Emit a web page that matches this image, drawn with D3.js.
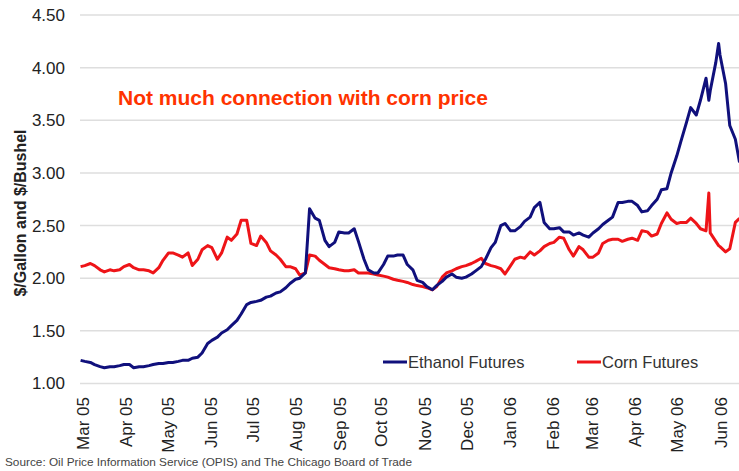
<!DOCTYPE html>
<html>
<head>
<meta charset="utf-8">
<script src="https://cdn.jsdelivr.net/npm/d3@7"></script>
<style>
  body { margin: 0; background: #fff; }
  svg { display: block; font-family: "Liberation Sans", Arial, sans-serif; }
</style>
</head>
<body>
<div class="container"></div>
<script>
var width = 739;
var height = 471;
var margin = {top: 15, right: 0, bottom: 87, left: 80};

// dates (Mon / Thu samples), grouped by month
var dates = [
  "2005-02-28","2005-03-03","2005-03-07","2005-03-10","2005-03-14","2005-03-17","2005-03-21","2005-03-24","2005-03-28","2005-03-31",
  "2005-04-04","2005-04-07","2005-04-11","2005-04-14","2005-04-18","2005-04-21","2005-04-25","2005-04-28",
  "2005-05-02","2005-05-05","2005-05-09","2005-05-12","2005-05-16","2005-05-19","2005-05-23","2005-05-26","2005-05-30",
  "2005-06-02","2005-06-06","2005-06-09","2005-06-13","2005-06-16","2005-06-20","2005-06-23","2005-06-27","2005-06-30",
  "2005-07-04","2005-07-07","2005-07-11","2005-07-14","2005-07-18","2005-07-21","2005-07-25","2005-07-28",
  "2005-08-01","2005-08-04","2005-08-08","2005-08-11","2005-08-15","2005-08-18","2005-08-22","2005-08-25","2005-08-29",
  "2005-09-01","2005-09-05","2005-09-08","2005-09-12","2005-09-15","2005-09-19","2005-09-22","2005-09-26","2005-09-29",
  "2005-10-03","2005-10-06","2005-10-10","2005-10-13","2005-10-17","2005-10-20","2005-10-24","2005-10-27","2005-10-31",
  "2005-11-03","2005-11-07","2005-11-10","2005-11-14","2005-11-17","2005-11-21","2005-11-24","2005-11-28",
  "2005-12-01","2005-12-05","2005-12-08","2005-12-12","2005-12-15","2005-12-19","2005-12-22","2005-12-26","2005-12-29",
  "2006-01-02","2006-01-05","2006-01-09","2006-01-12","2006-01-16","2006-01-19","2006-01-23","2006-01-26","2006-01-30",
  "2006-02-02","2006-02-06","2006-02-09","2006-02-13","2006-02-16","2006-02-20","2006-02-23","2006-02-27",
  "2006-03-02","2006-03-06","2006-03-09","2006-03-13","2006-03-16","2006-03-20","2006-03-23","2006-03-27","2006-03-30",
  "2006-04-03","2006-04-06","2006-04-10","2006-04-13","2006-04-17","2006-04-20","2006-04-24","2006-04-27",
  "2006-05-01","2006-05-04","2006-05-08","2006-05-11","2006-05-15","2006-05-18","2006-05-22","2006-05-24","2006-05-25","2006-05-29","2006-05-31",
  "2006-06-01","2006-06-05","2006-06-08","2006-06-12","2006-06-15"
];

var ethanol = [
  1.22,1.21,1.20,1.18,1.16,1.15,1.16,1.16,1.17,1.18,
  1.18,1.15,1.16,1.16,1.17,1.18,1.19,1.19,
  1.20,1.20,1.21,1.22,1.22,1.24,1.25,1.29,1.38,
  1.41,1.44,1.48,1.51,1.55,1.60,1.66,1.75,1.77,
  1.78,1.79,1.82,1.83,1.86,1.87,1.91,1.95,
  1.99,2.00,2.05,2.66,2.57,2.55,2.36,2.30,2.34,
  2.44,2.43,2.43,2.47,2.35,2.18,2.08,2.05,2.05,
  2.13,2.21,2.21,2.22,2.22,2.13,2.08,1.98,1.96,
  1.92,1.89,1.93,1.97,2.01,2.04,2.01,2.00,
  2.01,2.04,2.07,2.11,2.18,2.29,2.34,2.50,2.52,
  2.45,2.45,2.49,2.54,2.58,2.67,2.72,2.53,2.47,
  2.47,2.48,2.44,2.44,2.41,2.43,2.41,2.39,
  2.43,2.47,2.51,2.55,2.58,2.72,2.72,2.73,2.73,
  2.69,2.63,2.64,2.69,2.75,2.84,2.85,3.00,
  3.16,3.30,3.48,3.62,3.55,3.69,3.90,3.69,3.78,4.05,4.23,
  4.12,3.85,3.45,3.32,3.10
];

var corn = [
  2.11,2.12,2.14,2.12,2.08,2.06,2.08,2.07,2.08,2.11,
  2.13,2.10,2.08,2.08,2.07,2.05,2.10,2.17,
  2.24,2.24,2.22,2.20,2.24,2.12,2.18,2.27,2.31,
  2.29,2.18,2.24,2.39,2.36,2.42,2.55,2.55,2.33,
  2.31,2.40,2.34,2.26,2.22,2.18,2.11,2.11,
  2.09,2.03,2.05,2.22,2.21,2.17,2.13,2.10,2.09,
  2.08,2.07,2.07,2.08,2.05,2.05,2.05,2.04,2.03,
  2.02,2.01,1.99,1.98,1.97,1.96,1.94,1.93,1.92,
  1.91,1.89,1.92,2.01,2.05,2.07,2.09,2.11,
  2.12,2.14,2.16,2.19,2.14,2.12,2.11,2.09,2.04,
  2.12,2.18,2.20,2.19,2.25,2.22,2.26,2.30,2.33,
  2.34,2.39,2.38,2.27,2.21,2.30,2.27,2.20,
  2.20,2.24,2.33,2.36,2.37,2.37,2.35,2.37,2.38,
  2.36,2.45,2.44,2.40,2.42,2.52,2.62,2.56,
  2.52,2.53,2.53,2.57,2.52,2.47,2.45,2.81,2.43,2.35,2.31,
  2.30,2.25,2.28,2.53,2.57
];

var yTicks = [1.00, 1.50, 2.00, 2.50, 3.00, 3.50, 4.00, 4.50];
var monthTicks = ["2005-03-01","2005-04-01","2005-05-01","2005-06-01","2005-07-01","2005-08-01","2005-09-01","2005-10-01",
  "2005-11-01","2005-12-01","2006-01-01","2006-02-01","2006-03-01","2006-04-01","2006-05-01","2006-06-01"];
var seriesNames = ["Ethanol Futures", "Corn Futures"];
var colors = ["#10107c", "#ee1418"];

var parse = d3.timeParse("%Y-%m-%d");
var fmt = d3.timeFormat("%b %y");

//-----------------------------------------
// 1. SVG
var svg = d3.select(".container")
  .append("svg")
  .attr("width", width)
  .attr("height", height);

//-----------------------------------------
// 2. SCALES & AXES
var xScale = d3.scaleTime()
  .domain([parse("2005-03-01"), parse("2006-06-01")])
  .range([82, 720]);
var yScale = d3.scaleLinear()
  .domain([1, 4.5])
  .range([383.5, margin.top]);

// gridlines
svg.append("g")
  .selectAll("line")
  .data(yTicks)
  .enter()
  .append("line")
  .attr("x1", margin.left)
  .attr("x2", width)
  .attr("y1", (d) => yScale(d))
  .attr("y2", (d) => yScale(d))
  .attr("stroke", "#dedede")
  .attr("stroke-width", 1.5);

var yAxis = d3.axisLeft(yScale)
  .tickValues(yTicks)
  .tickFormat(d3.format(".2f"))
  .tickSize(0)
  .tickPadding(0);
svg.append("g")
  .attr("transform", "translate(65,0)")
  .call(yAxis)
  .call((g) => g.select(".domain").remove())
  .selectAll("text")
  .attr("font-size", 17)
  .attr("font-family", "Liberation Sans, Arial, sans-serif")
  .attr("fill", "#222");

var xAxis = d3.axisBottom(xScale)
  .tickValues(monthTicks.map(parse))
  .tickFormat(fmt)
  .tickSize(0);
svg.append("g")
  .attr("transform", "translate(0,397)")
  .call(xAxis)
  .call((g) => g.select(".domain").remove())
  .selectAll("text")
  .attr("font-size", 17)
  .attr("font-family", "Liberation Sans, Arial, sans-serif")
  .attr("fill", "#222")
  .attr("text-anchor", "end")
  .attr("transform", "rotate(-90)")
  .attr("x", 0)
  .attr("y", 0)
  .attr("dy", "0.36em");

// y title
svg.append("text")
  .attr("transform", "translate(20,213) rotate(-90)")
  .attr("text-anchor", "middle")
  .attr("dy", "0.35em")
  .attr("font-size", 16)
  .attr("font-weight", "bold")
  .attr("fill", "#222")
  .text("$/Gallon and $/Bushel");

//-----------------------------------------
// 3. LINES
var line = d3.line()
  .x((d) => xScale(d.date))
  .y((d) => yScale(d.value));

[corn, ethanol].forEach(function(values, j) {
  var pts = values.map((v, i) => ({date: parse(dates[i]), value: v}));
  svg.append("path")
    .datum(pts)
    .attr("fill", "none")
    .attr("stroke", j == 0 ? colors[1] : colors[0])
    .attr("stroke-width", 3)
    .attr("stroke-linejoin", "round")
    .attr("d", line);
});

//-----------------------------------------
// 4. LEGEND & NOTES
var legendX = [383, 577];
var legend = svg.selectAll(".legend")
  .data(seriesNames)
  .enter()
  .append("g")
  .attr("class", "legend")
  .attr("transform", (d, i) => "translate(" + legendX[i] + ",362)");
legend.append("line")
  .attr("x1", 0).attr("x2", 24)
  .attr("stroke", (d, i) => colors[i])
  .attr("stroke-width", 3);
legend.append("text")
  .attr("x", 25)
  .attr("dy", "0.36em")
  .attr("font-size", 16.5)
  .attr("fill", "#333")
  .text((d) => d);

svg.append("text")
  .attr("x", 118)
  .attr("y", 105)
  .attr("font-size", 21)
  .attr("font-weight", "bold")
  .attr("fill", "#ff3300")
  .text("Not much connection with corn price");

svg.append("text")
  .attr("x", 5)
  .attr("y", 466)
  .attr("font-size", 11)
  .attr("fill", "#444")
  .attr("textLength", 407)
  .attr("lengthAdjust", "spacingAndGlyphs")
  .text("Source: Oil Price Information Service (OPIS) and The Chicago Board of Trade");
</script>
</body>
</html>
